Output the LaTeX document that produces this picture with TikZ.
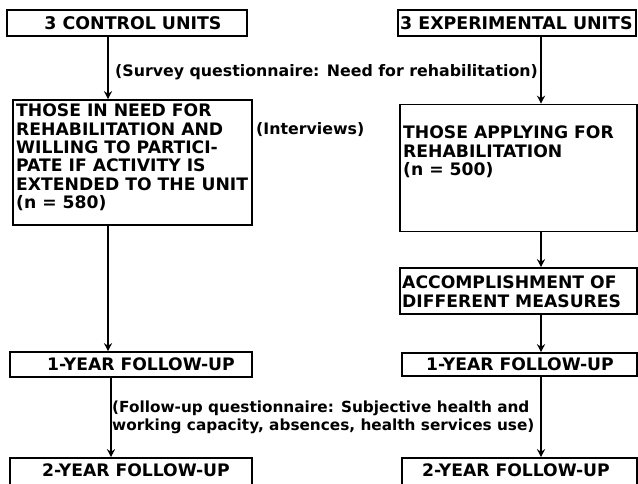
\documentclass[tikz,border=0pt]{standalone}
\usepackage{fontspec}
\setmainfont{DejaVu Sans}
\usetikzlibrary{arrows.meta}
\begin{document}
\begin{tikzpicture}[x=1pt,y=-1pt,
  box/.style={draw, line width=1.6pt, rectangle, inner sep=2pt},
  boxtext/.style={font=\bfseries\fontsize{17.2}{18.3}\selectfont, inner sep=0pt},
  toptext/.style={font=\bfseries\fontsize{17.4}{18}\selectfont, inner sep=0pt},
  lbl/.style={font=\bfseries\fontsize{15.8}{18}\selectfont, inner sep=0pt, align=left},
  lblsmall/.style={font=\bfseries\fontsize{15.3}{18}\selectfont, inner sep=0pt, align=left},
  arr/.style={line width=1.6pt, -{Stealth[length=8pt,width=8pt]}},
  ln/.style={line width=1.6pt}]
\useasboundingbox (0,0) rectangle (638,484);
\clip (0,0) rectangle (638,484);
\fill[white] (0,0) rectangle (638,484);
% column coordinates
\coordinate (colL) at (108,0);
\coordinate (colL2) at (111,0);
\coordinate (colR) at (541,0);
% boxes
\node[box, minimum width=240pt, minimum height=26pt] (A) at (127,23) {};
\node[toptext] (At) at (133,23) {3 CONTROL UNITS};
\node[box, minimum width=238pt, minimum height=26pt] (B) at (517,23) {};
\node[toptext, anchor=west] (Bt) at (400,23) {3 EXPERIMENTAL UNITS};
\node[box, minimum width=239pt, minimum height=125pt] (C) at (132.5,162.5) {};
\node[boxtext, anchor=north west, align=left] (Ct) at (16,104) {THOSE IN NEED FOR\\REHABILITATION AND\\WILLING TO PARTICI-\\PATE IF ACTIVITY IS\\EXTENDED TO THE UNIT\\(n = 580)};
\node[box, minimum width=237pt, minimum height=127pt] (D) at (518.5,168) {};
\node[boxtext, anchor=north west, align=left] (Dt) at (403,126) {THOSE APPLYING FOR\\REHABILITATION\\(n = 500)};
\node[box, minimum width=237pt, minimum height=46pt] (E) at (518.5,291) {};
\node[boxtext, anchor=north west, align=left] (Et) at (402,276) {ACCOMPLISHMENT OF\\DIFFERENT MEASURES};
\node[box, minimum width=242pt, minimum height=25pt] (G) at (131,364.5) {};
\node[boxtext] (Gt) at (141,364.5) {1-YEAR FOLLOW-UP};
\node[box, minimum width=235pt, minimum height=23pt] (F) at (519.5,364.5) {};
\node[boxtext] (Ft) at (520,364.5) {1-YEAR FOLLOW-UP};
\node[box, minimum width=242pt, minimum height=40pt] (H) at (131,478) {};
\node[boxtext] (Ht) at (136,470) {2-YEAR FOLLOW-UP};
\node[box, minimum width=235pt, minimum height=40pt] (I) at (519.5,478) {};
\node[boxtext] (It) at (516,470) {2-YEAR FOLLOW-UP};
% labels
\node[lbl, anchor=west] (L1) at (115,72) {(Survey questionnaire: Need for rehabilitation)};
\node[lbl, anchor=west] (L2) at (256,130) {(Interviews)};
\node[lblsmall, anchor=west] (L3) at (112,417) {(Follow-up questionnaire: Subjective health and\\working capacity, absences, health services use)};
% connectors
\draw[arr] (A.south -| colL) -- (C.north -| colL);
\draw[arr] (B.south -| colR) -- (D.north -| colR);
\draw[arr] (C.south -| colL) -- (G.north -| colL);
\draw[arr] (D.south -| colR) -- (E.north -| colR);
\draw[arr] (E.south -| colR) -- (F.north -| colR);
\draw[arr] (G.south -| colL2) -- (H.north -| colL2);
\draw[arr] (F.south -| colR) -- (I.north -| colR);
\end{tikzpicture}
\end{document}
